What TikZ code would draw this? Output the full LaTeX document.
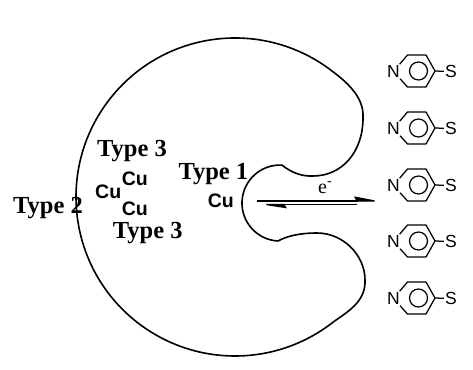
\documentclass[tikz,border=0pt]{standalone}
\usepackage{fontspec}
\setmainfont{Liberation Serif}
\newfontfamily\helv{Liberation Sans}
\usetikzlibrary{arrows.meta}

\begin{document}
\begin{tikzpicture}[x=1pt,y=-1pt,
  outline/.style={line width=1.6pt, line join=round},
  typelabel/.style={anchor=base west, inner sep=0pt,
    font=\fontsize{24.5}{24}\selectfont\bfseries},
  culabel/.style={anchor=base west, inner sep=0pt,
    font=\helv\fontsize{19.5}{20}\selectfont\bfseries},
  elabel/.style={anchor=base west, inner sep=0pt,
    font=\fontsize{20}{20}\selectfont},
  atom/.style={inner sep=1pt, font=\helv\fontsize{17.5}{17}\selectfont},
  bond/.style={line width=1.25pt, line join=round},
  fwdarrow/.style={line width=1.4pt,
    -{Stealth[harpoon, length=24pt, width=9pt, inset=2pt]}},
  backarrow/.style={line width=1.4pt,
    -{Stealth[harpoon, length=25pt, width=7.5pt, inset=2pt]}}]

\useasboundingbox (0,0) rectangle (473,369);

% protein body: large disc with two lobes and an inner pocket
\draw[outline]
  (332.9,71.7) arc[start angle=-52, end angle=-308, radius=159]
  .. controls (347,312) and (366,302) .. (365,280)
  .. controls (365,255) and (343,233) .. (317,233)
  .. controls (300,233) and (287,236) .. (278,241)
  arc[start angle=93, end angle=273, radius=38]
  .. controls (292,173) and (302,176.5) .. (313,176)
  .. controls (342,176) and (363,152) .. (363,118)
  .. controls (364,100) and (352,86) .. (332.9,71.7)
  -- cycle;

% copper sites
\node[typelabel] (t3a) at (97,156.7) {Type 3};
\node[culabel]   (cua) at (121.7,185) {Cu};
\node[culabel]   (cub) at (95,198.3) {Cu};
\node[culabel]   (cuc) at (121.7,215) {Cu};
\node[typelabel] (t3b) at (112.7,238.3) {Type 3};
\node[typelabel] (t2)  at (13,213.3) {Type 2};
\node[typelabel] (t1)  at (178.3,179.3) {Type 1};
\node[culabel]   (cud) at (207.7,207.3) {Cu};

% electron transfer equilibrium
\node[elabel] (eminus) at (318,193) {e\textsuperscript{-}};
\coordinate (fwdA) at (257,201);
\coordinate (fwdB) at (382,201);
\coordinate (bckA) at (357,204.5);
\coordinate (bckB) at (257,204.5);
\draw[fwdarrow] (fwdA) -- (fwdB);
\draw[backarrow] (bckA) -- (bckB);

% 4-mercaptopyridine molecules
\foreach \yy [count=\i] in {71,128,185,241,298} {
  \coordinate (tl\i) at (407.5,\yy-16);
  \coordinate (tr\i) at (426,\yy-16);
  \coordinate (rt\i) at (435,\yy);
  \coordinate (br\i) at (426,\yy+16);
  \coordinate (bl\i) at (407.5,\yy+16);
  \node[atom] (N\i) at (393.5,\yy+0.5) {N};
  \node[atom] (S\i) at (451,\yy+0.5) {S};
  \node[bond, draw, circle, minimum size=18pt, inner sep=0pt] (ring\i) at (418.5,\yy) {};
  \draw[bond] (N\i) -- (tl\i) -- (tr\i) -- (rt\i) -- (br\i) -- (bl\i) -- (N\i);
  \draw[bond] (rt\i) -- (S\i);
}
\end{tikzpicture}
\end{document}
